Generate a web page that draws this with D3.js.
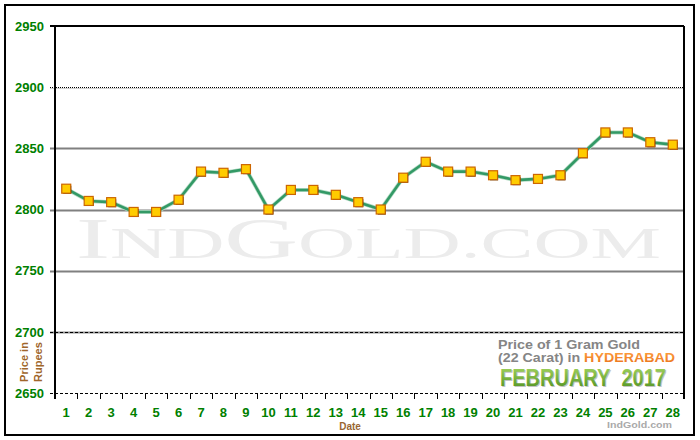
<!DOCTYPE html>
<html><head><meta charset="utf-8">
<script src="https://cdn.jsdelivr.net/npm/d3@7"></script>
<style>body{margin:0;background:#fff}svg{display:block}</style>
</head><body><svg id="c" width="700" height="440"></svg>
<script>
const days = d3.range(1, 29).map(String);
const prices = [2817,2807,2806,2798,2798,2808,2831,2830,2833,2800,2816,2816,2812,2806,2800,2826,2839,2831,2831,2828,2824,2825,2828,2846,2863,2863,2855,2853];
const yTicks = [2650,2700,2750,2800,2850,2900,2950];

const svg = d3.select("#c");
const L = 55, R = 684, T = 26, B = 393;
const x = d3.scaleBand().domain(days).range([L, R]);
const y = d3.scaleLinear().domain([2650, 2950]).range([B, T]);

// outer border
svg.append("rect").attr("x",5).attr("y",5).attr("width",689).attr("height",430)
  .attr("fill","#fff").attr("stroke","#000").attr("stroke-width",2);

// watermark
const wm = svg.append("text").attr("x",76).attr("y",258)
  .attr("font-family","Liberation Serif, serif").attr("fill","#ececec")
  .attr("textLength",585).attr("lengthAdjust","spacingAndGlyphs");
[["I",58],["ND",45],["G",58],["OLD.COM",45]].forEach(([t,s])=>wm.append("tspan").attr("font-size",s).text(t));

// gridlines
const g = svg.append("g");
yTicks.forEach(v => {
  const yy = Math.round(y(v)) + 0.5;
  if (v === 2950) return;
  if (v === 2650) {
    g.append("line").attr("x1",50).attr("x2",R).attr("y1",yy).attr("y2",yy)
      .attr("stroke","#000").attr("stroke-dasharray","3,2");
  } else if (v === 2900) {
    g.append("line").attr("x1",50).attr("x2",R).attr("y1",yy+1).attr("y2",yy+1).attr("stroke","#d0d0d0");
    g.append("line").attr("x1",50).attr("x2",R).attr("y1",yy).attr("y2",yy)
      .attr("stroke","#000").attr("stroke-dasharray","1,1");
  } else if (v === 2700) {
    g.append("line").attr("x1",50).attr("x2",R).attr("y1",yy).attr("y2",yy).attr("stroke","#909090").attr("stroke-width",2);
    g.append("line").attr("x1",50).attr("x2",R).attr("y1",yy).attr("y2",yy)
      .attr("stroke","#000").attr("stroke-dasharray","3,2");
  } else {
    g.append("line").attr("x1",50).attr("x2",R).attr("y1",yy).attr("y2",yy).attr("stroke","#808080").attr("stroke-width",2);
  }
});
// top line
svg.append("line").attr("x1",50).attr("x2",R).attr("y1",T).attr("y2",T).attr("stroke","#000").attr("stroke-width",2);

// y axis
const yAxis = d3.axisLeft(y).tickValues(yTicks).tickSize(0).tickPadding(11).tickFormat(d3.format("d"));
const ya = svg.append("g").attr("transform",`translate(${L},0)`).call(yAxis);
ya.select(".domain").remove();
ya.selectAll("text").attr("font-family","Liberation Sans, Arial, sans-serif").attr("font-size",13)
  .attr("font-weight","bold").attr("fill","#008000");

// x axis
const xa = d3.axisBottom(x).tickSize(0).tickPadding(15);
const xg = svg.append("g").attr("transform",`translate(0,${B})`).call(xa);
xg.select(".domain").remove();
xg.selectAll("text").attr("font-family","Liberation Sans, Arial, sans-serif").attr("font-size",13)
  .attr("font-weight","bold").attr("fill","#008000");
const bounds = days.map(d => x(d)).concat([R]);
svg.append("g").selectAll("line").data(bounds).join("line")
  .attr("x1",d=>Math.round(d)+0.5).attr("x2",d=>Math.round(d)+0.5).attr("y1",B).attr("y2",B+6).attr("stroke","#000");

// plot frame left & right
svg.append("line").attr("x1",L).attr("x2",L).attr("y1",T).attr("y2",B+6).attr("stroke","#000").attr("stroke-width",2);
svg.append("line").attr("x1",R).attr("x2",R).attr("y1",T).attr("y2",B+6).attr("stroke","#000").attr("stroke-width",2);

// line
const cx = d => x(d) + x.bandwidth()/2;
const pts = days.map((d,i)=>[cx(d), y(prices[i])]);
svg.append("path").datum(pts).attr("d",d3.line()).attr("fill","none")
  .attr("stroke","#b5dcc5").attr("stroke-width",4).attr("stroke-linejoin","round");
svg.append("path").datum(pts).attr("d",d3.line()).attr("fill","none")
  .attr("stroke","#339966").attr("stroke-width",2.6).attr("stroke-linejoin","round");

// markers
const m = svg.append("g").selectAll("g").data(pts).join("g");
m.append("rect").attr("x",d=>d[0]-3).attr("y",d=>d[1]-3).attr("width",8).attr("height",8).attr("fill","#000");
m.append("rect").attr("x",d=>d[0]-4.5).attr("y",d=>d[1]-4.5).attr("width",9).attr("height",9)
  .attr("fill","#ffcc00").attr("stroke","#cc6600").attr("stroke-width",1.2);

// axis titles
svg.append("text").attr("x",350).attr("y",430).attr("text-anchor","middle")
  .attr("font-family","Liberation Sans, Arial, sans-serif").attr("font-size",10).attr("font-weight","bold")
  .attr("fill","#996633").text("Date");
const yt = svg.append("text").attr("transform","translate(28,362) rotate(-90)").attr("text-anchor","middle")
  .attr("font-family","Liberation Sans, Arial, sans-serif").attr("font-size",11).attr("font-weight","bold").attr("fill","#a0662a");
yt.append("tspan").attr("x",0).attr("y",0).text("Price in");
yt.append("tspan").attr("x",0).attr("y",14).text("Rupees");

// title block
const defs = svg.append("defs");
const gr = defs.append("linearGradient").attr("id","gg").attr("x1",0).attr("y1",0).attr("x2",0).attr("y2",1);
gr.append("stop").attr("offset","0%").attr("stop-color","#a5d660");
gr.append("stop").attr("offset","100%").attr("stop-color","#4d8f1f");
const go = defs.append("linearGradient").attr("id","go").attr("x1",0).attr("y1",0).attr("x2",0).attr("y2",1);
go.append("stop").attr("offset","0%").attr("stop-color","#ffa040");
go.append("stop").attr("offset","100%").attr("stop-color","#e8701a");

svg.append("text").attr("x",498).attr("y",349).attr("textLength",142).attr("lengthAdjust","spacingAndGlyphs")
  .attr("font-family","Liberation Sans, Arial, sans-serif").attr("font-size",12).attr("font-weight","bold")
  .attr("fill","#858585").text("Price of 1 Gram Gold");
const t2 = svg.append("text").attr("x",498).attr("y",362).attr("textLength",177).attr("lengthAdjust","spacingAndGlyphs")
  .attr("font-family","Liberation Sans, Arial, sans-serif").attr("font-size",12).attr("font-weight","bold");
t2.append("tspan").attr("fill","#858585").text("(22 Carat) in\u00a0");
t2.append("tspan").attr("fill","url(#go)").text("HYDERABAD");
const title = "FEBRUARY\u00a0\u00a02017";
svg.append("text").attr("x",501).attr("y",387).attr("textLength",166).attr("lengthAdjust","spacingAndGlyphs")
  .attr("font-family","Liberation Sans, Arial, sans-serif").attr("font-size",23).attr("font-weight","bold")
  .attr("fill","#c4c4c4").text(title);
svg.append("text").attr("x",500).attr("y",386).attr("textLength",166).attr("lengthAdjust","spacingAndGlyphs")
  .attr("font-family","Liberation Sans, Arial, sans-serif").attr("font-size",23).attr("font-weight","bold")
  .attr("fill","url(#gg)").text(title);
svg.append("text").attr("x",607).attr("y",428).attr("textLength",65).attr("lengthAdjust","spacingAndGlyphs")
  .attr("font-family","Liberation Sans, Arial, sans-serif").attr("font-size",9).attr("font-weight","bold")
  .attr("fill","#aaaaaa").text("IndGold.com");
</script></body></html>
